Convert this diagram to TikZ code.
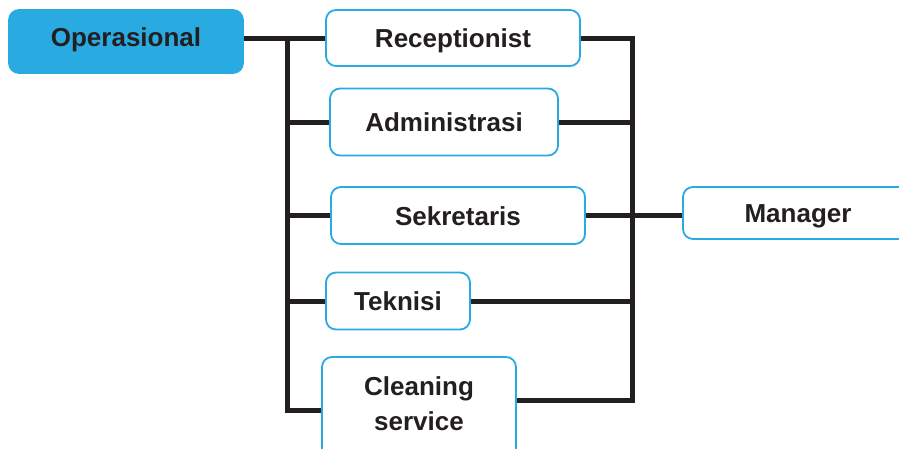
\documentclass[tikz,border=0pt]{standalone}
\usepackage{fontspec}
\setmainfont{Liberation Sans}
\definecolor{sky}{HTML}{29ABE2}
\definecolor{ink}{HTML}{231F20}
\begin{document}
\begin{tikzpicture}[x=1pt,y=-1pt,
  box/.style={draw=sky, line width=1.8pt, rounded corners=10pt, fill=white,
    inner sep=0pt, text=ink, font=\fontsize{26}{30}\selectfont\bfseries,
    text height=19pt, text depth=0pt},
  headbox/.style={box, fill=sky},
  conn/.style={draw=ink, line width=5pt},
  lbl/.style={text=ink, font=\fontsize{26}{30}\selectfont\bfseries, inner sep=0pt, anchor=base}]
\useasboundingbox (0,0) rectangle (899,448);
\clip (0,0) rectangle (899,448);

% buses
\coordinate (L) at (287,0);
\coordinate (R) at (632,0);

% boxes
\node[headbox, minimum width=234pt, minimum height=63pt] (op) at (126,41.5) {};
\node[lbl] at (126,46) {Operasional};
\node[box, minimum width=254pt, minimum height=56pt] (rec) at (453,38) {Receptionist};
\node[box, minimum width=228pt, minimum height=67pt] (adm) at (444,122) {Administrasi};
\node[box, minimum width=254pt, minimum height=57pt] (sek) at (458,215.5) {Sekretaris};
\node[box, minimum width=144pt, minimum height=57pt] (tek) at (398,301) {Teknisi};
\node[box, minimum width=194pt, minimum height=106pt] (cln) at (419,410) {};
\node[lbl] at (419,395) {Cleaning};
\node[lbl] at (419,430) {service};
\node[box, minimum width=230pt, minimum height=52pt, text depth=-4pt] (man) at (798,213) {Manager};

% connectors
\draw[conn] (op.east |- rec.west) -- (rec.west);
\draw[conn] (rec.west -| L) -- (L |- cln.west) -- (cln.west);
\draw[conn] (adm.west -| L) -- (adm.west);
\draw[conn] (sek.west -| L) -- (sek.west);
\draw[conn] (tek.west -| L) -- (tek.west);
\coordinate (cr) at ([yshift=10pt]cln.east);
\draw[conn] (rec.east) -- (rec.east -| R) -- (R |- cr) -- (cr);
\draw[conn] (adm.east) -- (adm.east -| R);
\draw[conn] (sek.east) -- (man.west |- sek.east);
\draw[conn] (tek.east) -- (tek.east -| R);
\end{tikzpicture}
\end{document}
